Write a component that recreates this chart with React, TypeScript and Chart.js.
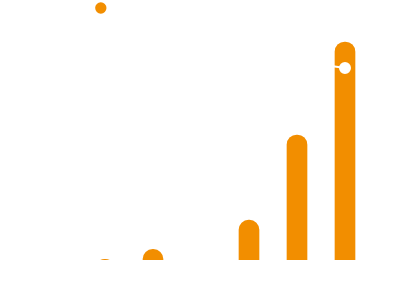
import React, { useEffect, useRef } from "react";
import { Chart, registerables } from "chart.js";

Chart.register(...registerables);

const categories = ["2019", "2020", "2021", "2022", "2023", "2024"];
const barValues = [0.3, 4.8, null, 18.0, 56.3, 98.2];
const lineValues = [62, 69, 75, 81, 89.6, 86.5];
const barLabel = "Yearly new installed capacity (thousand units)";
const lineLabel = "Growth trend (%)";
const yMax = 100;

const ORANGE = "#f28e00";
const WHITE = "#ffffff";

export default function App() {
  const canvasRef = useRef<HTMLCanvasElement | null>(null);

  useEffect(() => {
    const canvas = canvasRef.current;
    if (!canvas) return;
    const chart = new Chart(canvas, {
      type: "bar",
      data: {
        labels: categories,
        datasets: [
          {
            type: "bar",
            label: barLabel,
            data: barValues,
            backgroundColor: ORANGE,
            borderWidth: 0,
            borderRadius: 10,
            borderSkipped: "bottom",
            barThickness: 20,
            base: -15,
            clip: 0,
            order: 2,
          },
          {
            type: "line",
            label: lineLabel,
            data: lineValues,
            borderColor: WHITE,
            backgroundColor: WHITE,
            pointBackgroundColor: WHITE,
            pointBorderColor: WHITE,
            borderWidth: 2,
            pointRadius: 5,
            tension: 0,
            order: 1,
          },
        ],
      },
      options: {
        responsive: true,
        maintainAspectRatio: false,
        animation: false,
        layout: { padding: { left: 81, right: 31, bottom: 23, top: 0 } },
        plugins: {
          legend: {
            display: true,
            position: "top",
            align: "center",
            labels: {
              usePointStyle: true,
              boxWidth: 8,
              boxHeight: 8,
              padding: 2,
              color: WHITE,
              font: { size: 12, family: "'Liberation Sans', Arial, sans-serif" },
              sort: (a: any, b: any) => a.datasetIndex - b.datasetIndex,
            },
          },
          tooltip: { enabled: false },
        },
        scales: {
          x: { display: false, grid: { display: false } },
          y: { display: false, min: 0, max: yMax, grid: { display: false } },
        },
      },
    });
    return () => chart.destroy();
  }, []);

  return (
    <div style={{ position: "fixed", left: 0, top: 0, width: 400, height: 283, background: "#ffffff" }}>
      <canvas ref={canvasRef} />
    </div>
  );
}
